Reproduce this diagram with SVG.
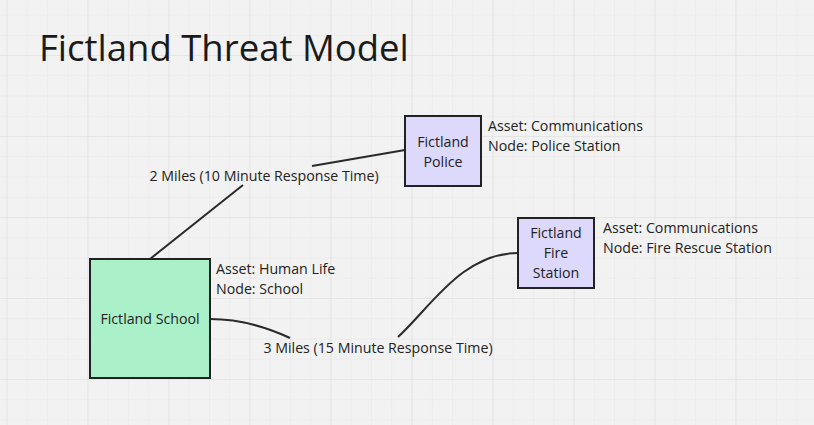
<svg xmlns="http://www.w3.org/2000/svg" width="814" height="425" viewBox="0 0 814 425">
<style>
  .t{font-family:"Open Sans","Noto Sans","Liberation Sans",sans-serif;font-size:14.2px;fill:#222}
  .c{text-anchor:middle}
  .title{font-family:"Open Sans","Noto Sans","Liberation Sans",sans-serif;font-size:36.5px;fill:#1a1a1a}
  .box{stroke:#222;stroke-width:2}
  .purple{fill:#dcd9fd}
  .green{fill:#aaf0c9}
  .edge{fill:none;stroke:#2a2a2a;stroke-width:2}
</style>
<defs>
  <pattern id="minor" patternUnits="userSpaceOnUse" x="6.5" y="55" width="20.25" height="20.25">
    <path d="M0,0H20.25M0,0V20.25" fill="none" stroke="#e7e7e7" stroke-width="1"/>
  </pattern>
  <pattern id="major" patternUnits="userSpaceOnUse" x="6.5" y="55" width="81" height="81">
    <path d="M0,0H81M0,0V81" fill="none" stroke="#dddddd" stroke-width="1.2"/>
  </pattern>
</defs>
<rect width="814" height="425" fill="#f2f2f2"/>
<rect width="814" height="425" fill="url(#minor)"/>
<rect width="814" height="425" fill="url(#major)"/>

<text class="title" x="39" y="61">Fictland Threat Model</text>

<g id="connectors">
  <path class="edge" d="M150,259 L243,185"/>
  <path class="edge" d="M312,166 L405,150"/>
  <text class="t c" x="264" y="181">2 Miles (10 Minute Response Time)</text>
  <path class="edge" d="M210,319 C235,319 262,325 290,338"/>
  <path class="edge" d="M398,337 C430,308 462,253 518,253"/>
  <text class="t c" x="378" y="353">3 Miles (15 Minute Response Time)</text>
</g>

<g id="police">
  <rect class="box purple" x="405" y="116" width="76" height="70"/>
  <text class="t c" x="443" y="147">Fictland</text>
  <text class="t c" x="443" y="167">Police</text>
  <text class="t" x="488" y="131">Asset: Communications</text>
  <text class="t" x="488" y="151">Node: Police Station</text>
</g>

<g id="fire">
  <rect class="box purple" x="518" y="218" width="76" height="70"/>
  <text class="t c" x="556" y="238">Fictland</text>
  <text class="t c" x="556" y="258">Fire</text>
  <text class="t c" x="556" y="278">Station</text>
  <text class="t" x="603" y="233">Asset: Communications</text>
  <text class="t" x="603" y="253">Node: Fire Rescue Station</text>
</g>

<g id="school">
  <rect class="box green" x="90" y="259" width="120" height="119"/>
  <text class="t c" x="150" y="324">Fictland School</text>
  <text class="t" x="216" y="274">Asset: Human Life</text>
  <text class="t" x="216" y="294">Node: School</text>
</g>
</svg>
